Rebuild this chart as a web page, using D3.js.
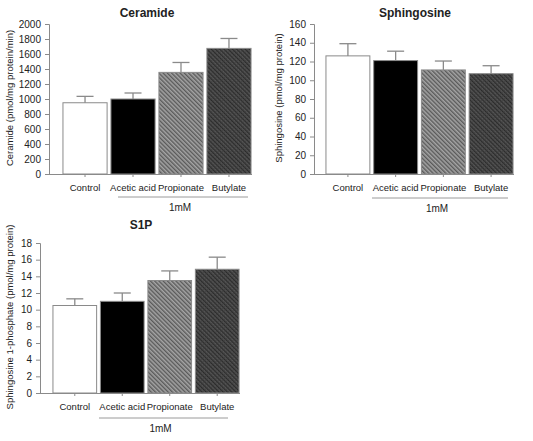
<!DOCTYPE html>
<html>
<head>
<meta charset="utf-8">
<script src="https://cdn.jsdelivr.net/npm/d3@7"></script>
<style>
  html, body { margin: 0; padding: 0; background: #fff; }
  svg { display: block; }
  text { font-family: "Liberation Sans", Arial, sans-serif; fill: #222; }
</style>
</head>
<body>
<svg id="chart" width="533" height="441"></svg>
<script>
// ---- data ----
const categories = ["Control", "Acetic acid", "Propionate", "Butylate"];

const ceramideValues = [950, 1000, 1355, 1675];
const ceramideErrors = [85, 80, 132, 132];
const ceramideTicks = [0, 200, 400, 600, 800, 1000, 1200, 1400, 1600, 1800, 2000];

const sphingosineValues = [126, 121, 111, 107];
const sphingosineErrors = [13, 10, 9.5, 8.5];
const sphingosineTicks = [0, 20, 40, 60, 80, 100, 120, 140, 160];

const s1pValues = [10.5, 11.0, 13.5, 14.85];
const s1pErrors = [0.8, 1.0, 1.15, 1.45];
const s1pTicks = [0, 2, 4, 6, 8, 10, 12, 14, 16, 18];

const groupLabel = "1mM";

// ---- drawing ----
const svg = d3.select("#chart");
const defs = svg.append("defs");

const p1 = defs.append("pattern").attr("id", "hatchLight")
  .attr("patternUnits", "userSpaceOnUse").attr("width", 3).attr("height", 3)
  .attr("patternTransform", "rotate(-45)");
p1.append("rect").attr("width", 3).attr("height", 3).attr("fill", "#a4a4a4");
p1.append("rect").attr("width", 1.4).attr("height", 3).attr("fill", "#5a5a5a");

const p2 = defs.append("pattern").attr("id", "hatchDark")
  .attr("patternUnits", "userSpaceOnUse").attr("width", 3).attr("height", 3)
  .attr("patternTransform", "rotate(-45)");
p2.append("rect").attr("width", 3).attr("height", 3).attr("fill", "#555555");
p2.append("rect").attr("width", 1.3).attr("height", 3).attr("fill", "#2a2a2a");
p2.append("rect").attr("width", 3).attr("height", 0.6).attr("fill", "#3a3a3a");

const fills = ["#ffffff", "#000000", "url(#hatchLight)", "url(#hatchDark)"];
const axisColor = "#8a8a8a";
const fontFam = '"Liberation Sans", Arial, sans-serif';

function panel(cfg) {
  const g = svg.append("g");
  const y = d3.scaleLinear().domain([cfg.ticks[0], cfg.ticks[cfg.ticks.length - 1]])
    .range([cfg.y0, cfg.y1]);
  const x = d3.scaleBand().domain(categories).range([cfg.bx0, cfg.bx1])
    .paddingInner(0.08).paddingOuter(0.02);

  g.selectAll("rect.bar").data(cfg.values).join("rect")
    .attr("class", "bar")
    .attr("x", (d, i) => x(categories[i]))
    .attr("y", d => y(d))
    .attr("width", x.bandwidth())
    .attr("height", d => y(0) - y(d))
    .attr("fill", (d, i) => fills[i])
    .attr("stroke", axisColor)
    .attr("stroke-width", 1);

  const cap = 8.5;
  cfg.values.forEach((v, i) => {
    const cx = x(categories[i]) + x.bandwidth() / 2;
    g.append("line").attr("x1", cx).attr("x2", cx)
      .attr("y1", y(v)).attr("y2", y(v + cfg.errors[i]))
      .attr("stroke", axisColor).attr("stroke-width", 1.3);
    g.append("line").attr("x1", cx - cap).attr("x2", cx + cap)
      .attr("y1", y(v + cfg.errors[i])).attr("y2", y(v + cfg.errors[i]))
      .attr("stroke", axisColor).attr("stroke-width", 1.3);
  });

  const yAxis = g.append("g").attr("transform", `translate(${cfg.ax},0)`)
    .call(d3.axisLeft(y).tickValues(cfg.ticks).tickFormat(d3.format("d"))
      .tickSize(4).tickPadding(4));
  yAxis.select(".domain").attr("stroke", axisColor);
  yAxis.selectAll(".tick line").attr("stroke", axisColor);
  yAxis.selectAll("text").attr("font-size", "10px")
    .style("font-family", fontFam).attr("fill", "#222");

  const xAxis = g.append("g").attr("transform", `translate(0,${cfg.y0})`)
    .call(d3.axisBottom(x).tickSize(3).tickSizeOuter(0).tickPadding(7));
  xAxis.select(".domain").attr("d", `M${cfg.ax},0.5H${cfg.bx1}`).attr("stroke", axisColor);
  xAxis.selectAll(".tick line").attr("stroke", axisColor);
  xAxis.selectAll("text").attr("font-size", "9.5px")
    .style("font-family", fontFam).attr("fill", "#222");

  g.append("line").attr("x1", cfg.gx0).attr("x2", cfg.gx1)
    .attr("y1", cfg.gy).attr("y2", cfg.gy)
    .attr("stroke", "#9a9a9a").attr("stroke-width", 1);
  g.append("text").attr("x", (cfg.gx0 + cfg.gx1) / 2 - 3).attr("y", cfg.gy + 14)
    .attr("text-anchor", "middle").attr("font-size", "10px").text(groupLabel);

  g.append("text").attr("x", cfg.tx).attr("y", cfg.ty)
    .attr("text-anchor", "middle").attr("font-size", "12px").attr("font-weight", "bold")
    .text(cfg.title);

  g.append("text")
    .attr("transform", `translate(${cfg.lx},${cfg.ly}) rotate(-90)`)
    .attr("text-anchor", "middle").attr("font-size", "9.5px").attr("fill", "#333")
    .text(cfg.ylabel);
}

panel({
  title: "Ceramide", ylabel: "Ceramide (pmol/mg protein/min)",
  values: ceramideValues, errors: ceramideErrors, ticks: ceramideTicks,
  ax: 49, y0: 174, y1: 24, bx0: 62, bx1: 252,
  gx0: 118, gx1: 248, gy: 197, tx: 147, ty: 17, lx: 13, ly: 98
});

panel({
  title: "Sphingosine", ylabel: "Sphingosine (pmol/mg protein)",
  values: sphingosineValues, errors: sphingosineErrors, ticks: sphingosineTicks,
  ax: 314, y0: 174, y1: 24, bx0: 325, bx1: 514,
  gx0: 372, gx1: 508, gy: 198, tx: 415, ty: 17, lx: 282, ly: 98
});

panel({
  title: "S1P", ylabel: "Sphingosine 1-phosphate (pmol/mg protein)",
  values: s1pValues, errors: s1pErrors, ticks: s1pTicks,
  ax: 40, y0: 393, y1: 243, bx0: 52, bx1: 240,
  gx0: 99, gx1: 228, gy: 418, tx: 141, ty: 229, lx: 13, ly: 317
});
</script>
</body>
</html>
